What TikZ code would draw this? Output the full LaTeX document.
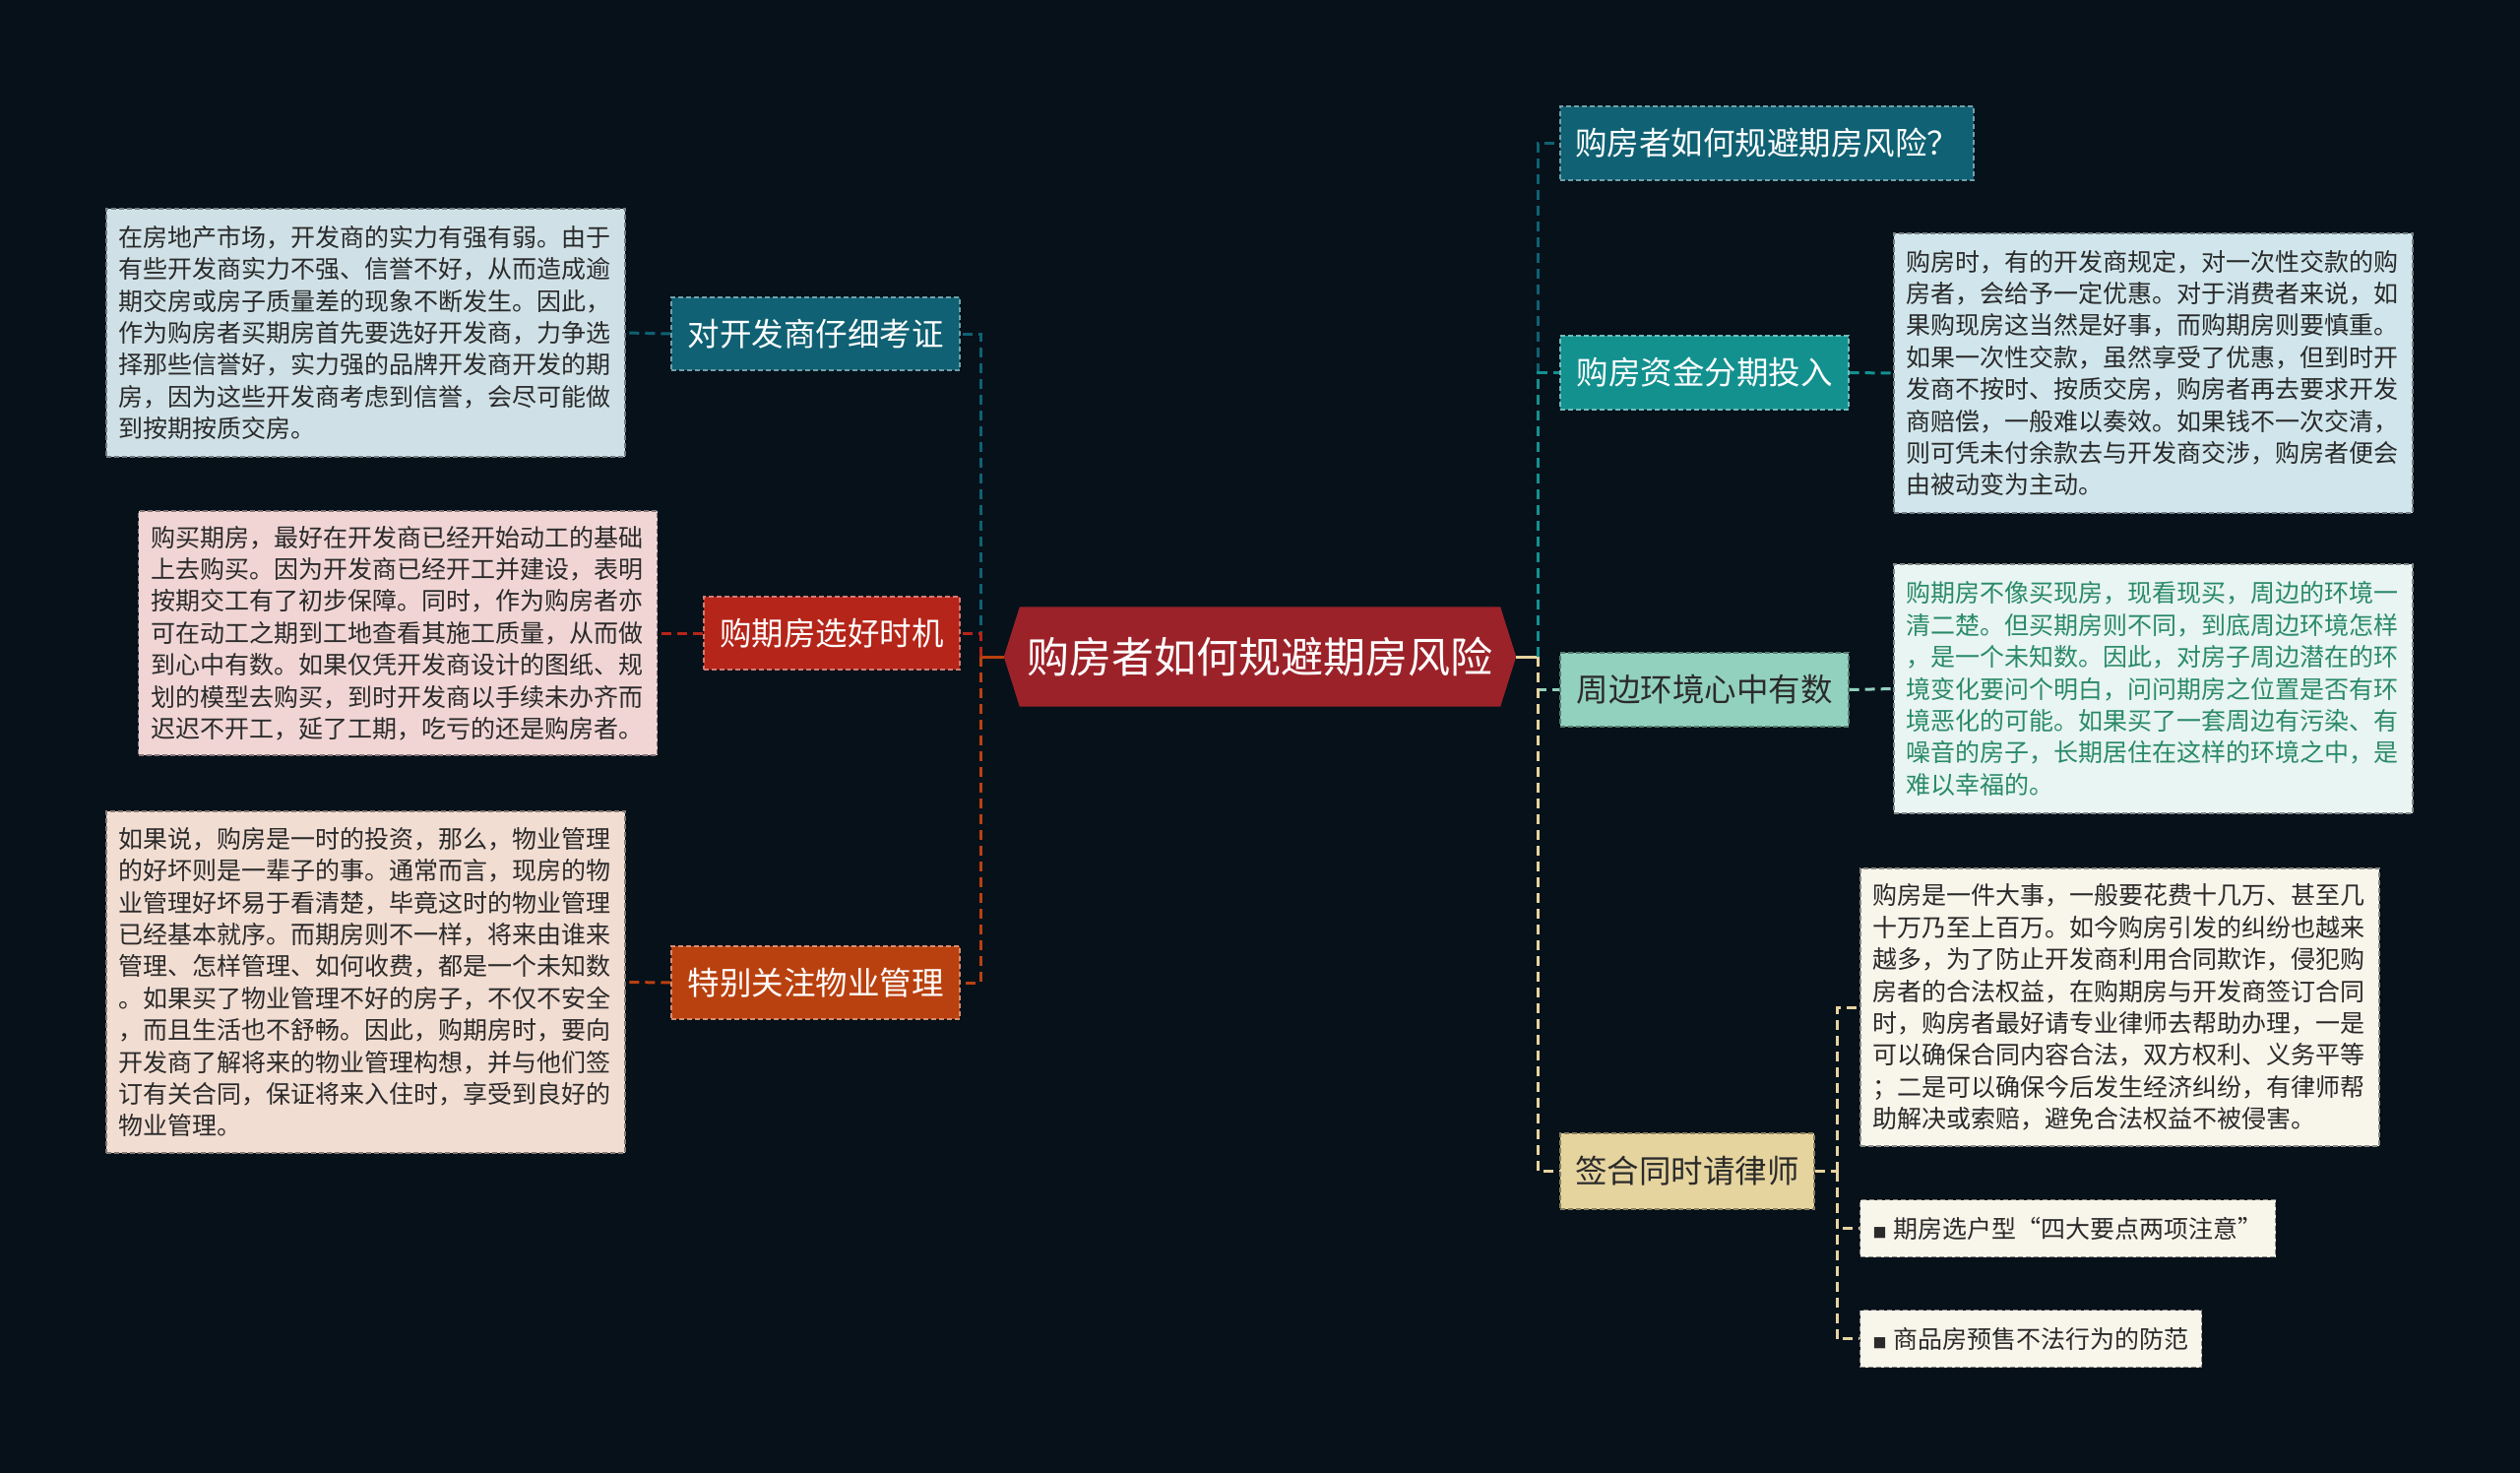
\documentclass[tikz,border=0pt]{standalone}
\usepackage{fontspec}
\setmainfont{Noto Sans CJK SC}
\pgfdeclarelayer{bg}
\pgfdeclarelayer{edges}
\pgfsetlayers{bg,edges,main}
\definecolor{bgc}{HTML}{06111A}
\definecolor{cen}{HTML}{9C2229}
\definecolor{tdark}{HTML}{0F6173}
\definecolor{cred}{HTML}{B52519}
\definecolor{corg}{HTML}{B9410F}
\definecolor{cteal}{HTML}{13918F}
\definecolor{cmint}{HTML}{92D1BD}
\definecolor{cbeige}{HTML}{E6D49F}
\definecolor{dlblue}{HTML}{CFE1E7}
\definecolor{dpink}{HTML}{F1D5D5}
\definecolor{dpeach}{HTML}{F2DDD2}
\definecolor{drblue}{HTML}{D0E6EC}
\definecolor{drmint}{HTML}{E9F5F2}
\definecolor{dcream}{HTML}{F8F5EB}
\definecolor{txt}{HTML}{2A2A2A}
\definecolor{gtxt}{HTML}{2A8A68}
\begin{document}
\begin{tikzpicture}[x=1pt,y=-1pt,
  box/.style={rectangle, inner sep=0pt, dash pattern=on 5pt off 3pt, line width=1.3pt, align=center},
  branch/.style={box, font=\fontsize{32.5}{36}\selectfont, minimum height=74pt},
  detail/.style={box, font=\fontsize{25}{32.4}\selectfont, align=left, text width=502pt, inner xsep=12.5pt, text=txt},
  item/.style={box, font=\fontsize{25}{30}\selectfont, text=txt, fill=dcream, draw=dcream!55!black, minimum height=58pt, inner xsep=13pt},
  conn/.style={line width=3pt, dash pattern=on 10pt off 6pt},
  stub/.style={line width=3pt}
]
\begin{pgfonlayer}{bg}
\fill[bgc] (0,0) rectangle (2560,1496);
\end{pgfonlayer}

% center
\node[font=\fontsize{43}{48}\selectfont, text=white, minimum width=520pt, minimum height=101pt, inner sep=0pt] (c) at (1280,667) {购房者如何规避期房风险};
\begin{pgfonlayer}{bg}
\fill[cen] (c.west) -- ([xshift=16pt]c.north west) -- ([xshift=-16pt]c.north east) -- (c.east) -- ([xshift=-16pt]c.south east) -- ([xshift=16pt]c.south west) -- cycle;
\end{pgfonlayer}

% left branches
\node[branch, fill=tdark, draw=tdark!60!white, text=white, minimum width=293pt] (bl1) at (828.5,339) {对开发商仔细考证};
\node[branch, fill=cred, draw=cred!60!white, text=white, minimum width=260pt] (bl2) at (845,643) {购期房选好时机};
\node[branch, fill=corg, draw=corg!60!white, text=white, minimum width=293pt] (bl3) at (828.5,998) {特别关注物业管理};

% right branches
\node[branch, fill=tdark, draw=tdark!60!white, text=white, minimum width=420pt, minimum height=75pt] (br1) at (1795,145.5) {购房者如何规避期房风险？};
\node[branch, fill=cteal, draw=cteal!60!white, text=white, minimum width=293pt, minimum height=75pt] (br2) at (1731.5,378.5) {购房资金分期投入};
\node[branch, fill=cmint, draw=cmint!60!black, text=txt, minimum width=293pt, minimum height=75pt] (br3) at (1731.5,700.5) {周边环境心中有数};
\node[branch, fill=cbeige, draw=cbeige!60!black, text=txt, minimum width=258pt, minimum height=77pt] (br4) at (1714,1189.5) {签合同时请律师};

% left details
\node[detail, fill=dlblue, draw=dlblue!55!black, minimum height=252pt] (dl1) at (371.5,338) {在房地产市场，开发商的实力有强有弱。由于\\有些开发商实力不强、信誉不好，从而造成逾\\期交房或房子质量差的现象不断发生。因此，\\作为购房者买期房首先要选好开发商，力争选\\择那些信誉好，实力强的品牌开发商开发的期\\房，因为这些开发商考虑到信誉，会尽可能做\\到按期按质交房。};
\node[detail, fill=dpink, draw=dpink!55!black, minimum height=248pt] (dl2) at (404,643) {购买期房，最好在开发商已经开始动工的基础\\上去购买。因为开发商已经开工并建设，表明\\按期交工有了初步保障。同时，作为购房者亦\\可在动工之期到工地查看其施工质量，从而做\\到心中有数。如果仅凭开发商设计的图纸、规\\划的模型去购买，到时开发商以手续未办齐而\\迟迟不开工，延了工期，吃亏的还是购房者。};
\node[detail, fill=dpeach, draw=dpeach!55!black, minimum height=347pt] (dl3) at (371.5,997.5) {如果说，购房是一时的投资，那么，物业管理\\的好坏则是一辈子的事。通常而言，现房的物\\业管理好坏易于看清楚，毕竟这时的物业管理\\已经基本就序。而期房则不一样，将来由谁来\\管理、怎样管理、如何收费，都是一个未知数\\。如果买了物业管理不好的房子，不仅不安全\\，而且生活也不舒畅。因此，购期房时，要向\\开发商了解将来的物业管理构想，并与他们签\\订有关合同，保证将来入住时，享受到良好的\\物业管理。};

% right details
\node[detail, fill=drblue, draw=drblue!55!black, minimum height=284pt] (dr1) at (2187.5,379) {购房时，有的开发商规定，对一次性交款的购\\房者，会给予一定优惠。对于消费者来说，如\\果购现房这当然是好事，而购期房则要慎重。\\如果一次性交款，虽然享受了优惠，但到时开\\发商不按时、按质交房，购房者再去要求开发\\商赔偿，一般难以奏效。如果钱不一次交清，\\则可凭未付余款去与开发商交涉，购房者便会\\由被动变为主动。};
\node[detail, fill=drmint, draw=drmint!55!black, text=gtxt, minimum height=253pt] (dr2) at (2187.5,699.5) {购期房不像买现房，现看现买，周边的环境一\\清二楚。但买期房则不同，到底周边环境怎样\\，是一个未知数。因此，对房子周边潜在的环\\境变化要问个明白，问问期房之位置是否有环\\境恶化的可能。如果买了一套周边有污染、有\\噪音的房子，长期居住在这样的环境之中，是\\难以幸福的。};
\node[detail, fill=dcream, draw=dcream!55!black, minimum height=282pt] (dr3) at (2153.5,1023) {购房是一件大事，一般要花费十几万、甚至几\\十万乃至上百万。如今购房引发的纠纷也越来\\越多，为了防止开发商利用合同欺诈，侵犯购\\房者的合法权益，在购期房与开发商签订合同\\时，购房者最好请专业律师去帮助办理，一是\\可以确保合同内容合法，双方权利、义务平等\\；二是可以确保今后发生经济纠纷，有律师帮\\助解决或索赔，避免合法权益不被侵害。};

% items
\node[item, anchor=west] (i1) at (1889,1247.5) {{\fontsize{14}{14}\selectfont ■}\;期房选户型“四大要点两项注意”};
\node[item, anchor=west] (i2) at (1889,1359.5) {{\fontsize{14}{14}\selectfont ■}\;商品房预售不法行为的防范};

% connectors
\coordinate (tl) at (996,667);
\coordinate (tr) at (1562,667);
\coordinate (ts) at (1866,1189.5);
\begin{pgfonlayer}{edges}
\draw[stub, corg] (c.west) -- (tl);
\draw[stub, cbeige] (c.east) -- (tr);
\draw[conn, tdark] (tl) |- (bl1.east);
\draw[conn, cred] (tl) |- (bl2.east);
\draw[conn, corg] (tl) |- (bl3.east);
\draw[conn, tdark] (tr) |- (br1.west);
\draw[conn, cteal] (tr) |- (br2.west);
\draw[conn, cmint] (tr) |- (br3.west);
\draw[conn, cbeige] (tr) |- (br4.west);
\draw[conn, tdark] (bl1.west) -- (dl1.east);
\draw[conn, cred] (bl2.west) -- (dl2.east);
\draw[conn, corg] (bl3.west) -- (dl3.east);
\draw[conn, cteal] (br2.east) -- (dr1.west);
\draw[conn, cmint] (br3.east) -- (dr2.west);
\draw[conn, cbeige] (br4.east) -- (ts);
\draw[conn, cbeige] (ts) |- (dr3.west);
\draw[conn, cbeige] (ts) |- (i1.west);
\draw[conn, cbeige] (ts) |- (i2.west);
\end{pgfonlayer}
\end{tikzpicture}
\end{document}
